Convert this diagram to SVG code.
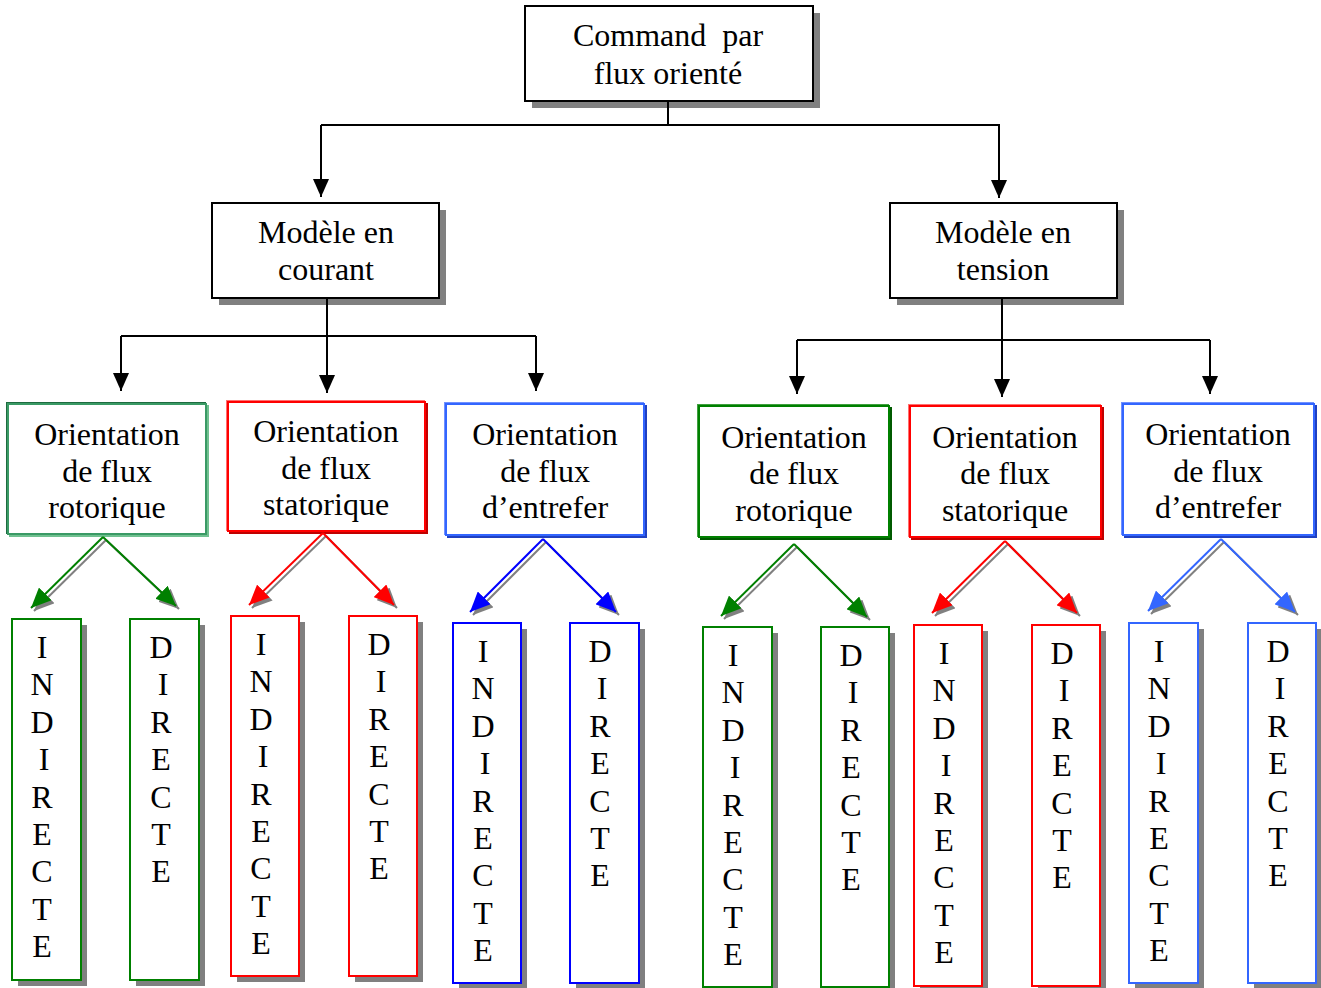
<svg xmlns="http://www.w3.org/2000/svg" width="1321" height="988" viewBox="0 0 1321 988">
<style>
  text { font-family: "Liberation Serif", "Times New Roman", serif; font-size: 32px; fill: #000; text-anchor: middle; }
  .box { fill: #fff; stroke: #000; stroke-width: 2; }
  .sh { fill: #808080; stroke: none; }
  .conn { stroke: #000; stroke-width: 2; fill: none; }
  .leaf { fill: #fff; stroke-width: 2; }
  .g { stroke: #008000; } .r { stroke: #ff0000; } .b { stroke: #0000ff; } .b2 { stroke: #3366ff; }
  .dl { stroke-width: 2; fill: none; }
  .gsh { stroke: #808080; stroke-width: 2; fill: none; }
</style>
<defs>
  <marker id="ak" markerUnits="userSpaceOnUse" markerWidth="18" markerHeight="16" refX="18" refY="8" orient="auto"><path d="M0,0 L18,8 L0,16 z" fill="#000"/></marker>
  <marker id="ag" markerUnits="userSpaceOnUse" markerWidth="20" markerHeight="18" refX="20" refY="9" orient="auto"><path d="M0,0 L20,9 L0,18 z" fill="#008000"/></marker>
  <marker id="ar" markerUnits="userSpaceOnUse" markerWidth="20" markerHeight="18" refX="20" refY="9" orient="auto"><path d="M0,0 L20,9 L0,18 z" fill="#ff0000"/></marker>
  <marker id="ab" markerUnits="userSpaceOnUse" markerWidth="20" markerHeight="18" refX="20" refY="9" orient="auto"><path d="M0,0 L20,9 L0,18 z" fill="#0000ff"/></marker>
  <marker id="ab2" markerUnits="userSpaceOnUse" markerWidth="20" markerHeight="18" refX="20" refY="9" orient="auto"><path d="M0,0 L20,9 L0,18 z" fill="#3366ff"/></marker>
  <marker id="agr" markerUnits="userSpaceOnUse" markerWidth="20" markerHeight="18" refX="20" refY="9" orient="auto"><path d="M0,0 L20,9 L0,18 z" fill="#808080"/></marker>
</defs>

<!-- top level nodes -->
<g id="n-root">
  <rect class="sh" x="532" y="13" width="288" height="95"/>
  <rect class="box" x="525" y="6" width="288" height="95"/>
  <text x="668" y="46" xml:space="preserve">Command  par</text>
  <text x="668" y="84">flux orienté</text>
</g>
<g id="n-courant">
  <rect class="sh" x="219" y="210" width="227" height="95"/>
  <rect class="box" x="212" y="203" width="227" height="95"/>
  <text x="326" y="243">Modèle en</text>
  <text x="326" y="280">courant</text>
</g>
<g id="n-tension">
  <rect class="sh" x="897" y="210" width="227" height="95"/>
  <rect class="box" x="890" y="203" width="227" height="95"/>
  <text x="1003" y="243">Modèle en</text>
  <text x="1003" y="280">tension</text>
</g>

<!-- orientation nodes -->
<g id="n-o1">
  <rect x="10" y="406" width="198" height="130" fill="none" stroke="#70c090" stroke-width="2"/>
  <rect x="7" y="403" width="198" height="130" fill="none" stroke="#1e6b40" stroke-width="2"/>
  <rect x="8" y="404" width="198" height="130" fill="#fff" stroke="#3a9a65" stroke-width="2"/>
  <text x="107" y="445">Orientation</text>
  <text x="107" y="482">de flux</text>
  <text x="107" y="518">rotorique</text>
</g>
<g id="n-o2">
  <rect x="230" y="404" width="197" height="129" fill="none" stroke="#c00000" stroke-width="2"/>
  <rect x="227" y="401" width="197" height="129" fill="none" stroke="#ff7070" stroke-width="2"/>
  <rect x="228" y="402" width="197" height="129" fill="#fff" stroke="#ff0000" stroke-width="2"/>
  <text x="326" y="442">Orientation</text>
  <text x="326" y="479">de flux</text>
  <text x="326" y="515">statorique</text>
</g>
<g id="n-o3">
  <rect x="448" y="406" width="198" height="131" fill="none" stroke="#2040c0" stroke-width="2"/>
  <rect x="445" y="403" width="198" height="131" fill="none" stroke="#7090ff" stroke-width="2"/>
  <rect x="446" y="404" width="198" height="131" fill="#fff" stroke="#3366ff" stroke-width="2"/>
  <text x="545" y="445">Orientation</text>
  <text x="545" y="482">de flux</text>
  <text x="545" y="518">d’entrefer</text>
</g>
<g id="n-o4">
  <rect x="701" y="408" width="190" height="131" fill="none" stroke="#005a00" stroke-width="2"/>
  <rect x="698" y="405" width="190" height="131" fill="none" stroke="#40a040" stroke-width="2"/>
  <rect x="699" y="406" width="190" height="131" fill="#fff" stroke="#008000" stroke-width="2"/>
  <text x="794" y="448">Orientation</text>
  <text x="794" y="484">de flux</text>
  <text x="794" y="521">rotorique</text>
</g>
<g id="n-o5">
  <rect x="912" y="408" width="191" height="131" fill="none" stroke="#c00000" stroke-width="2"/>
  <rect x="909" y="405" width="191" height="131" fill="none" stroke="#ff7070" stroke-width="2"/>
  <rect x="910" y="406" width="191" height="131" fill="#fff" stroke="#ff0000" stroke-width="2"/>
  <text x="1005" y="448">Orientation</text>
  <text x="1005" y="484">de flux</text>
  <text x="1005" y="521">statorique</text>
</g>
<g id="n-o6">
  <rect x="1125" y="406" width="191" height="131" fill="none" stroke="#2040c0" stroke-width="2"/>
  <rect x="1122" y="403" width="191" height="131" fill="none" stroke="#7090ff" stroke-width="2"/>
  <rect x="1123" y="404" width="191" height="131" fill="#fff" stroke="#3366ff" stroke-width="2"/>
  <text x="1218" y="445">Orientation</text>
  <text x="1218" y="482">de flux</text>
  <text x="1218" y="518">d’entrefer</text>
</g>

<!-- leaf nodes -->
<g id="n-l1">
  <rect class="sh" x="18" y="625" width="69" height="361"/>
  <rect class="leaf g" x="12" y="619" width="69" height="361"/>
  <text y="658"><tspan x="42">I</tspan><tspan x="42" dy="37.4">N</tspan><tspan x="42" dy="37.4">D</tspan><tspan x="44" dy="37.4">I</tspan><tspan x="42" dy="37.4">R</tspan><tspan x="42" dy="37.4">E</tspan><tspan x="42" dy="37.4">C</tspan><tspan x="42" dy="37.4">T</tspan><tspan x="42" dy="37.4">E</tspan></text>
</g>
<g id="n-l2">
  <rect class="sh" x="136" y="625" width="69" height="361"/>
  <rect class="leaf g" x="130" y="619" width="69" height="361"/>
  <text y="658"><tspan x="161">D</tspan><tspan x="163" dy="37.4">I</tspan><tspan x="161" dy="37.4">R</tspan><tspan x="161" dy="37.4">E</tspan><tspan x="161" dy="37.4">C</tspan><tspan x="161" dy="37.4">T</tspan><tspan x="161" dy="37.4">E</tspan></text>
</g>
<g id="n-l3">
  <rect class="sh" x="237" y="622" width="68" height="360"/>
  <rect class="leaf r" x="231" y="616" width="68" height="360"/>
  <text y="655"><tspan x="261">I</tspan><tspan x="261" dy="37.4">N</tspan><tspan x="261" dy="37.4">D</tspan><tspan x="263" dy="37.4">I</tspan><tspan x="261" dy="37.4">R</tspan><tspan x="261" dy="37.4">E</tspan><tspan x="261" dy="37.4">C</tspan><tspan x="261" dy="37.4">T</tspan><tspan x="261" dy="37.4">E</tspan></text>
</g>
<g id="n-l4">
  <rect class="sh" x="355" y="622" width="68" height="360"/>
  <rect class="leaf r" x="349" y="616" width="68" height="360"/>
  <text y="655"><tspan x="379">D</tspan><tspan x="381" dy="37.4">I</tspan><tspan x="379" dy="37.4">R</tspan><tspan x="379" dy="37.4">E</tspan><tspan x="379" dy="37.4">C</tspan><tspan x="379" dy="37.4">T</tspan><tspan x="379" dy="37.4">E</tspan></text>
</g>
<g id="n-l5">
  <rect class="sh" x="459" y="629" width="68" height="360"/>
  <rect class="leaf b" x="453" y="623" width="68" height="360"/>
  <text y="662"><tspan x="483">I</tspan><tspan x="483" dy="37.4">N</tspan><tspan x="483" dy="37.4">D</tspan><tspan x="485" dy="37.4">I</tspan><tspan x="483" dy="37.4">R</tspan><tspan x="483" dy="37.4">E</tspan><tspan x="483" dy="37.4">C</tspan><tspan x="483" dy="37.4">T</tspan><tspan x="483" dy="37.4">E</tspan></text>
</g>
<g id="n-l6">
  <rect class="sh" x="576" y="629" width="69" height="360"/>
  <rect class="leaf b" x="570" y="623" width="69" height="360"/>
  <text y="662"><tspan x="600">D</tspan><tspan x="602" dy="37.4">I</tspan><tspan x="600" dy="37.4">R</tspan><tspan x="600" dy="37.4">E</tspan><tspan x="600" dy="37.4">C</tspan><tspan x="600" dy="37.4">T</tspan><tspan x="600" dy="37.4">E</tspan></text>
</g>
<g id="n-l7">
  <rect class="sh" x="709" y="633" width="69" height="360"/>
  <rect class="leaf g" x="703" y="627" width="69" height="360"/>
  <text y="666"><tspan x="733">I</tspan><tspan x="733" dy="37.4">N</tspan><tspan x="733" dy="37.4">D</tspan><tspan x="735" dy="37.4">I</tspan><tspan x="733" dy="37.4">R</tspan><tspan x="733" dy="37.4">E</tspan><tspan x="733" dy="37.4">C</tspan><tspan x="733" dy="37.4">T</tspan><tspan x="733" dy="37.4">E</tspan></text>
</g>
<g id="n-l8">
  <rect class="sh" x="827" y="633" width="68" height="360"/>
  <rect class="leaf g" x="821" y="627" width="68" height="360"/>
  <text y="666"><tspan x="851">D</tspan><tspan x="853" dy="37.4">I</tspan><tspan x="851" dy="37.4">R</tspan><tspan x="851" dy="37.4">E</tspan><tspan x="851" dy="37.4">C</tspan><tspan x="851" dy="37.4">T</tspan><tspan x="851" dy="37.4">E</tspan></text>
</g>
<g id="n-l9">
  <rect class="sh" x="920" y="631" width="68" height="361"/>
  <rect class="leaf r" x="914" y="625" width="68" height="361"/>
  <text y="664"><tspan x="944">I</tspan><tspan x="944" dy="37.4">N</tspan><tspan x="944" dy="37.4">D</tspan><tspan x="946" dy="37.4">I</tspan><tspan x="944" dy="37.4">R</tspan><tspan x="944" dy="37.4">E</tspan><tspan x="944" dy="37.4">C</tspan><tspan x="944" dy="37.4">T</tspan><tspan x="944" dy="37.4">E</tspan></text>
</g>
<g id="n-l10">
  <rect class="sh" x="1038" y="631" width="68" height="361"/>
  <rect class="leaf r" x="1032" y="625" width="68" height="361"/>
  <text y="664"><tspan x="1062">D</tspan><tspan x="1064" dy="37.4">I</tspan><tspan x="1062" dy="37.4">R</tspan><tspan x="1062" dy="37.4">E</tspan><tspan x="1062" dy="37.4">C</tspan><tspan x="1062" dy="37.4">T</tspan><tspan x="1062" dy="37.4">E</tspan></text>
</g>
<g id="n-l11">
  <rect class="sh" x="1135" y="629" width="69" height="360"/>
  <rect class="leaf b2" x="1129" y="623" width="69" height="360"/>
  <text y="662"><tspan x="1159">I</tspan><tspan x="1159" dy="37.4">N</tspan><tspan x="1159" dy="37.4">D</tspan><tspan x="1161" dy="37.4">I</tspan><tspan x="1159" dy="37.4">R</tspan><tspan x="1159" dy="37.4">E</tspan><tspan x="1159" dy="37.4">C</tspan><tspan x="1159" dy="37.4">T</tspan><tspan x="1159" dy="37.4">E</tspan></text>
</g>
<g id="n-l12">
  <rect class="sh" x="1254" y="629" width="68" height="360"/>
  <rect class="leaf b2" x="1248" y="623" width="68" height="360"/>
  <text y="662"><tspan x="1278">D</tspan><tspan x="1280" dy="37.4">I</tspan><tspan x="1278" dy="37.4">R</tspan><tspan x="1278" dy="37.4">E</tspan><tspan x="1278" dy="37.4">C</tspan><tspan x="1278" dy="37.4">T</tspan><tspan x="1278" dy="37.4">E</tspan></text>
</g>

<!-- connectors -->
<g id="connectors">
  <path class="conn" d="M668,101 V125 M321,125 H1000"/>
  <line class="conn" x1="321" y1="125" x2="321" y2="197" marker-end="url(#ak)"/>
  <line class="conn" x1="999" y1="125" x2="999" y2="198" marker-end="url(#ak)"/>

  <path class="conn" d="M121,336 H536"/>
  <line class="conn" x1="327" y1="298" x2="327" y2="393" marker-end="url(#ak)"/>
  <line class="conn" x1="121" y1="336" x2="121" y2="391" marker-end="url(#ak)"/>
  <line class="conn" x1="536" y1="336" x2="536" y2="391" marker-end="url(#ak)"/>

  <path class="conn" d="M797,340 H1210"/>
  <line class="conn" x1="1002" y1="298" x2="1002" y2="397" marker-end="url(#ak)"/>
  <line class="conn" x1="797" y1="340" x2="797" y2="394" marker-end="url(#ak)"/>
  <line class="conn" x1="1210" y1="340" x2="1210" y2="394" marker-end="url(#ak)"/>

  <!-- shadows of diagonal arrows -->
  <g transform="translate(3,3)">
    <line class="gsh" x1="103" y1="537" x2="31" y2="608" marker-end="url(#agr)"/>
    <line class="gsh" x1="103" y1="537" x2="176" y2="606" marker-end="url(#agr)"/>
    <line class="gsh" x1="323" y1="533" x2="249" y2="605" marker-end="url(#agr)"/>
    <line class="gsh" x1="323" y1="533" x2="394" y2="605" marker-end="url(#agr)"/>
    <line class="gsh" x1="543" y1="539" x2="470" y2="612" marker-end="url(#agr)"/>
    <line class="gsh" x1="543" y1="539" x2="616" y2="612" marker-end="url(#agr)"/>
    <line class="gsh" x1="794" y1="544" x2="721" y2="616" marker-end="url(#agr)"/>
    <line class="gsh" x1="794" y1="544" x2="867" y2="617" marker-end="url(#agr)"/>
    <line class="gsh" x1="1005" y1="541" x2="932" y2="613" marker-end="url(#agr)"/>
    <line class="gsh" x1="1005" y1="541" x2="1077" y2="613" marker-end="url(#agr)"/>
    <line class="gsh" x1="1221" y1="539" x2="1148" y2="611" marker-end="url(#agr)"/>
    <line class="gsh" x1="1221" y1="539" x2="1295" y2="612" marker-end="url(#agr)"/>
  </g>
  <line class="dl g" x1="103" y1="537" x2="31" y2="608" marker-end="url(#ag)"/>
  <line class="dl g" x1="103" y1="537" x2="176" y2="606" marker-end="url(#ag)"/>
  <line class="dl r" x1="323" y1="533" x2="249" y2="605" marker-end="url(#ar)"/>
  <line class="dl r" x1="323" y1="533" x2="394" y2="605" marker-end="url(#ar)"/>
  <line class="dl b" x1="543" y1="539" x2="470" y2="612" marker-end="url(#ab)"/>
  <line class="dl b" x1="543" y1="539" x2="616" y2="612" marker-end="url(#ab)"/>
  <line class="dl g" x1="794" y1="544" x2="721" y2="616" marker-end="url(#ag)"/>
  <line class="dl g" x1="794" y1="544" x2="867" y2="617" marker-end="url(#ag)"/>
  <line class="dl r" x1="1005" y1="541" x2="932" y2="613" marker-end="url(#ar)"/>
  <line class="dl r" x1="1005" y1="541" x2="1077" y2="613" marker-end="url(#ar)"/>
  <line class="dl b2" x1="1221" y1="539" x2="1148" y2="611" marker-end="url(#ab2)"/>
  <line class="dl b2" x1="1221" y1="539" x2="1295" y2="612" marker-end="url(#ab2)"/>
</g>
</svg>
